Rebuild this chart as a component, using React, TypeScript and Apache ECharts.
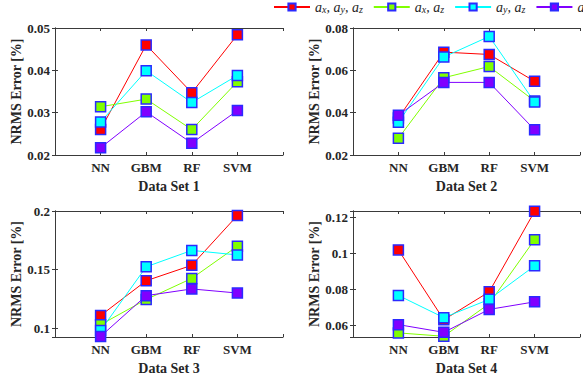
import React, { useEffect, useRef } from 'react';
import * as echarts from 'echarts';

const categories = ['NN', 'GBM', 'RF', 'SVM'];
const seriesNames = ['a_x, a_y, a_z', 'a_x, a_z', 'a_y, a_z', 'a_x, a_y'];
const seriesColors = ['#ff0000', '#80ff00', '#00ffff', '#8000ff'];
const dataSetTitles = ['Data Set 1', 'Data Set 2', 'Data Set 3', 'Data Set 4'];

// Data Set 1
const ds1Red = [0.026, 0.046, 0.0347, 0.0484];
const ds1Green = [0.0314, 0.0332, 0.026, 0.0373];
const ds1Cyan = [0.0278, 0.0399, 0.0324, 0.0388];
const ds1Purple = [0.0217, 0.0302, 0.0228, 0.0305];
// Data Set 2
const ds2Red = [0.0375, 0.0686, 0.0675, 0.0548];
const ds2Green = [0.0279, 0.0565, 0.0618, 0.0455];
const ds2Cyan = [0.0355, 0.0663, 0.076, 0.045];
const ds2Purple = [0.0388, 0.0543, 0.0543, 0.0319];
// Data Set 3
const ds3Red = [0.1108, 0.1405, 0.1537, 0.1962];
const ds3Green = [0.103, 0.1245, 0.1425, 0.17];
const ds3Cyan = [0.098, 0.1524, 0.1664, 0.1625];
const ds3Purple = [0.093, 0.1278, 0.1335, 0.13];
// Data Set 4
const ds4Red = [0.102, 0.063, 0.0786, 0.1235];
const ds4Green = [0.0557, 0.0538, 0.072, 0.1077];
const ds4Cyan = [0.0766, 0.0642, 0.0744, 0.0931];
const ds4Purple = [0.0603, 0.056, 0.0688, 0.073];

const allData = [
  [ds1Red, ds1Green, ds1Cyan, ds1Purple],
  [ds2Red, ds2Green, ds2Cyan, ds2Purple],
  [ds3Red, ds3Green, ds3Cyan, ds3Purple],
  [ds4Red, ds4Green, ds4Cyan, ds4Purple],
];

// y axis ranges and tick steps
const yMins = [0.02, 0.02, 0.0925, 0.0534];
const yMaxs = [0.05, 0.08, 0.2, 0.1237];
const ySteps = [0.01, 0.02, 0.05, 0.02];

const legendRich: Record<string, string> = {
  'a_x, a_y, a_z': '{i|a}{s|x}{i|, a}{s|y}{i|, a}{s|z}',
  'a_x, a_z': '{i|a}{s|x}{i|, a}{s|z}',
  'a_y, a_z': '{i|a}{s|y}{i|, a}{s|z}',
  'a_x, a_y': '{i|a}{s|x}{i|, a}{s|y}',
};

const SERIF = '"Liberation Serif", "DejaVu Serif", serif';
const AXIS_COLOR = '#3a3a3a';

export default function App() {
  const ref = useRef<HTMLDivElement>(null);
  useEffect(() => {
    if (!ref.current) return;
    const chart = echarts.init(ref.current, undefined, { renderer: 'svg' });

    const grids = [
      { left: 55, top: 28, width: 228, height: 127 },
      { left: 353, top: 28, width: 227, height: 127 },
      { left: 55, top: 211, width: 228, height: 128 },
      { left: 353, top: 211, width: 227, height: 128 },
    ];

    const xAxes: any[] = [];
    const yAxes: any[] = [];
    const series: any[] = [];
    const lineStyle = { color: AXIS_COLOR, width: 1 };
    const labelStyle = { fontFamily: SERIF, fontWeight: 'bold', fontSize: 13, color: '#262626' };

    grids.forEach((_, i) => {
      xAxes.push({
        gridIndex: i, type: 'value', min: 0, max: 5, interval: 1, position: 'bottom',
        axisLine: { show: true, lineStyle },
        axisTick: { show: true, inside: true, length: 3, lineStyle },
        splitLine: { show: false },
        axisLabel: {
          ...labelStyle, margin: 6,
          formatter: (v: number) => categories[Math.round(v) - 1] ?? '',
        },
        name: dataSetTitles[i], nameLocation: 'middle', nameGap: 24,
        nameTextStyle: { fontFamily: SERIF, fontWeight: 'bold', fontSize: 14, color: '#262626' },
      });
      xAxes.push({
        gridIndex: i, type: 'value', min: 0, max: 5, interval: 1, position: 'top',
        axisLine: { show: true, lineStyle },
        axisTick: { show: true, inside: true, length: 3, lineStyle },
        splitLine: { show: false },
        axisLabel: { show: false },
      });
      const step = ySteps[i];
      const fmt = (v: number) => {
        const r = v / step;
        if (Math.abs(r - Math.round(r)) > 1e-6) return '';
        return String(+v.toFixed(4));
      };
      yAxes.push({
        gridIndex: i, type: 'value', min: yMins[i], max: yMaxs[i],
        minInterval: step, maxInterval: step, splitNumber: 4, position: 'left',
        axisLine: { show: true, lineStyle },
        axisTick: { show: true, inside: true, length: 3, lineStyle },
        splitLine: { show: false },
        axisLabel: { ...labelStyle, margin: 5, formatter: fmt, showMinLabel: true, showMaxLabel: true },
        name: 'NRMS Error [%]', nameLocation: 'middle', nameGap: 31, nameRotate: 90,
        nameTextStyle: { fontFamily: SERIF, fontWeight: 'bold', fontSize: 14, color: '#262626' },
      });
      yAxes.push({
        gridIndex: i, type: 'value', min: yMins[i], max: yMaxs[i],
        minInterval: step, maxInterval: step, splitNumber: 4, position: 'right',
        axisLine: { show: true, lineStyle },
        axisTick: { show: true, inside: true, length: 3, lineStyle },
        splitLine: { show: false },
        axisLabel: { show: false },
      });
      allData[i].forEach((vals, j) => {
        series.push({
          type: 'line', name: seriesNames[j],
          xAxisIndex: i * 2, yAxisIndex: i * 2,
          data: vals.map((v, k) => [k + 1, v]),
          symbol: 'rect', symbolSize: 10, clip: false,
          lineStyle: { color: seriesColors[j], width: 1 },
          itemStyle: { color: seriesColors[j], borderColor: '#2a2aff', borderWidth: 1.5 },
          emphasis: { disabled: true },
        });
      });
    });

    chart.setOption({
      animation: false,
      backgroundColor: '#ffffff',
      grid: grids,
      xAxis: xAxes,
      yAxis: yAxes,
      series,
      legend: {
        left: 273, top: 0, width: 700, padding: 0,
        itemWidth: 36, itemHeight: 9, itemGap: 10,
        data: seriesNames,
        formatter: (name: string) => legendRich[name] ?? name,
        textStyle: {
          rich: {
            i: { fontFamily: SERIF, fontStyle: 'italic', fontSize: 14, color: '#262626', lineHeight: 14, verticalAlign: 'middle' },
            s: { fontFamily: SERIF, fontStyle: 'italic', fontSize: 10, color: '#262626', lineHeight: 9, verticalAlign: 'bottom' },
          },
        },
      },
    });
    return () => chart.dispose();
  }, []);
  return <div ref={ref} style={{ position: 'fixed', left: 0, top: 0, width: 583, height: 376 }} />;
}
